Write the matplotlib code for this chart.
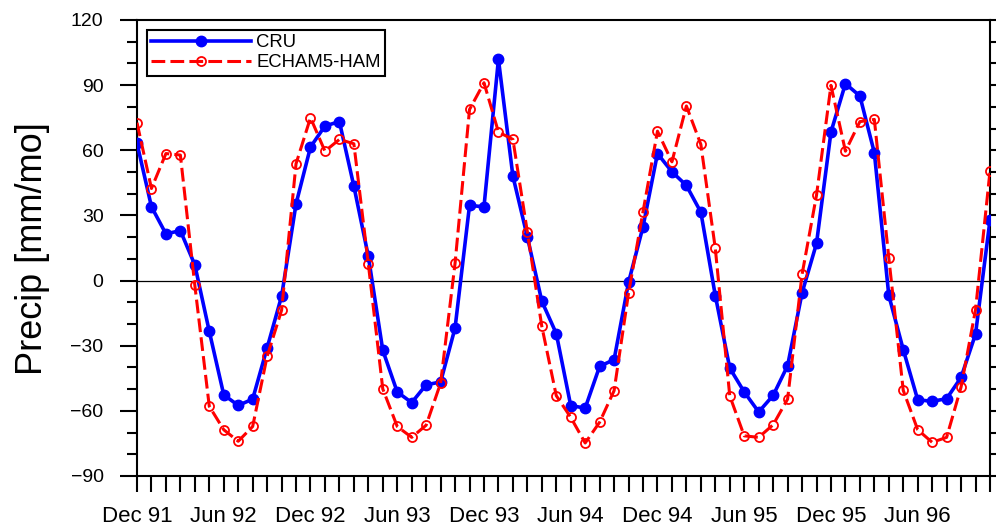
import matplotlib
matplotlib.use('Agg')
import matplotlib.pyplot as plt
import numpy as np

plt.rcParams['font.family'] = ['Liberation Sans', 'DejaVu Sans']

# monthly precip anomalies, Dec 1991 - Nov 1996
cru = [63.2, 34.0, 21.5, 23.0, 7.2, -23.4, -52.6, -57.5, -54.6, -31.0,
       -7.2, 35.3, 61.5, 71.2, 73.2, 43.5, 11.2, -32.1, -51.3, -56.2,
       -48.0, -46.7, -21.8, 34.6, 34.0, 101.9, 48.1, 20.1, -9.5, -24.4,
       -57.6, -58.7, -39.5, -36.4, -0.8, 24.8, 58.5, 50.1, 43.8, 31.5,
       -6.9, -40.3, -51.3, -60.5, -52.9, -39.2, -5.7, 17.1, 68.4, 90.7,
       85.0, 58.9, -6.8, -31.8, -54.9, -55.6, -54.4, -44.6, -24.6, 27.8]
echam = [72.7, 42.4, 58.5, 57.8, -2.2, -57.9, -68.7, -74.0, -67.2, -34.9,
         -13.7, 53.8, 75.0, 59.6, 65.0, 63.0, 7.7, -49.9, -67.2, -72.2,
         -66.6, -47.2, 8.0, 78.8, 91.1, 68.4, 65.0, 22.4, -21.1, -53.0,
         -63.0, -74.8, -65.2, -50.7, -5.7, 31.7, 68.8, 54.7, 80.4, 62.7,
         14.8, -53.1, -71.5, -72.2, -66.4, -54.6, 2.8, 39.3, 89.9, 59.6,
         73.2, 74.2, 10.5, -50.6, -68.7, -74.5, -72.2, -49.0, -13.4, 50.4]
tick_labels = ['Dec 91', 'Jun 92', 'Dec 92', 'Jun 93', 'Dec 93',
               'Jun 94', 'Dec 94', 'Jun 95', 'Dec 95', 'Jun 96']

months = np.arange(len(cru))

fig = plt.figure(figsize=(9.96, 5.29), dpi=100)
ax = fig.add_axes([137/996, 53/529, 853/996, 456/529])

ax.axhline(0, color='black', lw=0.9, zorder=1)
ax.plot(months, cru, color='#0000ff', lw=2.6, marker='o', ms=7.5,
        label='CRU', zorder=3)
ax.plot(months, echam, color='#ff0000', lw=2.2, ls=(0, (4.5, 1.7)), marker='o',
        ms=6.5, mfc='none', mec='#ff0000', mew=1.3, label='ECHAM5-HAM', zorder=4)

ax.set_xlim(0, len(cru) - 1)
ax.set_ylim(-90, 120)
ax.set_yticks(np.arange(-90, 121, 30))
ax.set_yticks(np.arange(-90, 121, 10), minor=True)
ax.set_xticks(months[::6])
ax.set_xticklabels(tick_labels)
ax.set_xticks(months, minor=True)

ax.tick_params(axis='both', which='both', direction='out', width=1.5)
ax.tick_params(axis='y', which='major', length=12.6, pad=11.5, right=True, labelsize=14)
ax.tick_params(axis='y', which='minor', length=7.2, right=True)
ax.tick_params(axis='x', which='both', length=11.5, pad=10, top=False, labelsize=16)
for s in ax.spines.values():
    s.set_linewidth(1.5)

fig.text(50/996, 1 - 248.5/529, 'Precip [mm/mo]', rotation=90, ha='right',
         va='center', fontsize=26)

leg = ax.legend(loc='upper left', bbox_to_anchor=(10/853, 1 - 10/456),
                borderaxespad=0, borderpad=0.24, labelspacing=0.15,
                handlelength=5.4, handletextpad=0.27, fontsize=13.3,
                fancybox=False, framealpha=1)
leg.get_frame().set_edgecolor('black')
leg.get_frame().set_linewidth(1.5)

fig.savefig('out.png', dpi=100)
